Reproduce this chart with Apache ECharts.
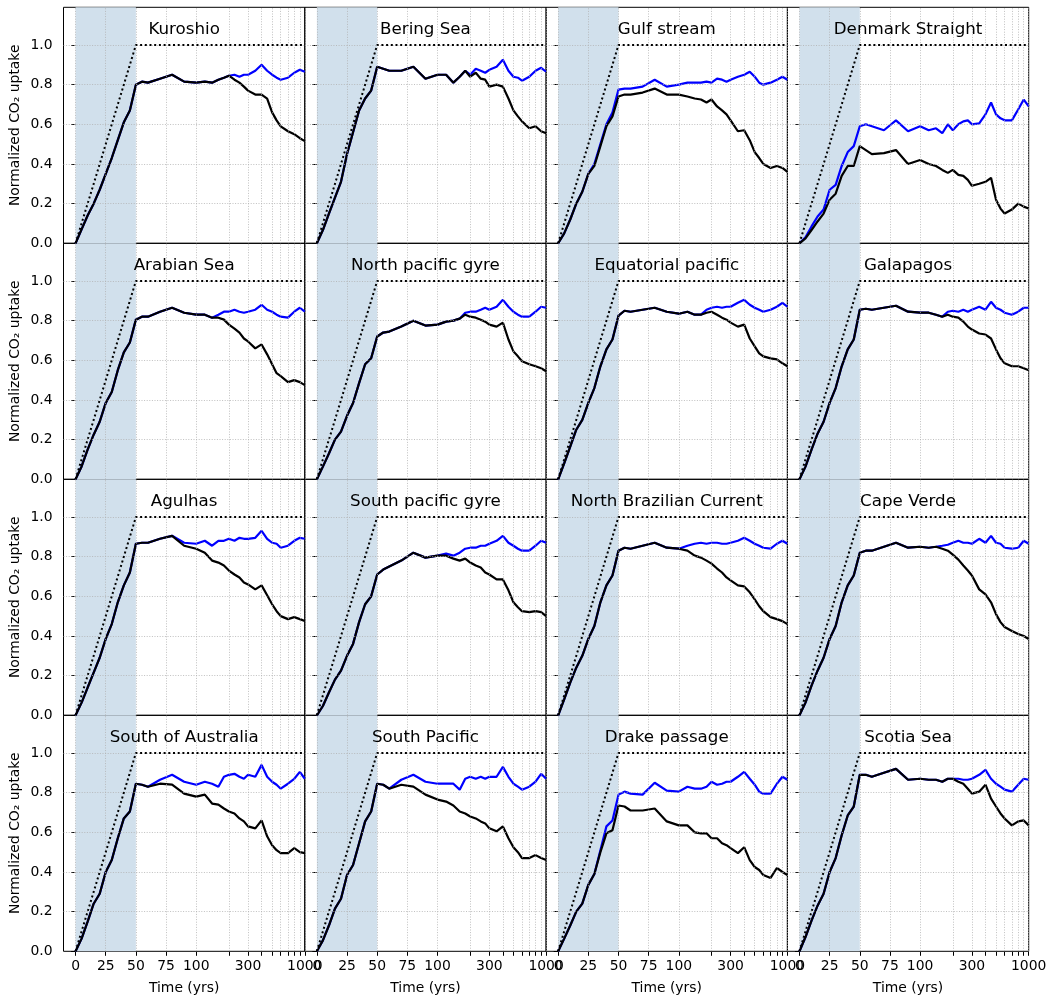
<!DOCTYPE html>
<html><head><meta charset="utf-8">
<script src="https://cdn.jsdelivr.net/npm/echarts@6.0.0/dist/echarts.min.js"></script>
<style>html,body{margin:0;padding:0;background:#fff}#c{width:1052px;height:998px}</style>
</head><body><div id="c"></div><script>
// ---------- data ----------
const T = [0,5,10,15,20,25,30,35,40,45,50,55,60,70,80,90,100,120,140,160,180,200,225,250,275,300,350,400,450,500,550,600,700,800,900,1000];

const titles = ['Kuroshio','Bering Sea','Gulf stream','Denmark Straight','Arabian Sea','North pacific gyre','Equatorial pacific','Galapagos','Agulhas','South pacific gyre','North Brazilian Current','Cape Verde','South of Australia','South Pacific','Drake passage','Scotia Sea'];

const kuroshioBlack = [0,0.07,0.14,0.20,0.27,0.35,0.43,0.52,0.61,0.67,0.80,0.815,0.81,0.83,0.85,0.815,0.81,0.815,0.81,0.825,0.835,0.845,0.825,0.81,0.79,0.77,0.75,0.75,0.73,0.66,0.62,0.59,0.565,0.55,0.53,0.515];
const kuroshioBlue  = [0,0.07,0.14,0.20,0.27,0.35,0.43,0.52,0.61,0.67,0.80,0.815,0.81,0.83,0.85,0.815,0.81,0.815,0.81,0.825,0.835,0.845,0.85,0.84,0.85,0.85,0.87,0.90,0.87,0.85,0.835,0.825,0.835,0.86,0.875,0.865];

const beringBlack = [0,0.067,0.15,0.23,0.31,0.45,0.56,0.67,0.73,0.77,0.89,0.88,0.87,0.87,0.89,0.83,0.85,0.85,0.81,0.84,0.87,0.84,0.86,0.83,0.825,0.79,0.80,0.79,0.73,0.67,0.64,0.615,0.58,0.59,0.565,0.555];
const beringBlue  = [0,0.067,0.15,0.23,0.31,0.45,0.56,0.67,0.73,0.77,0.89,0.88,0.87,0.87,0.89,0.83,0.85,0.85,0.81,0.84,0.87,0.85,0.88,0.87,0.86,0.875,0.89,0.925,0.87,0.84,0.835,0.82,0.84,0.87,0.885,0.865];

const gulfBlack = [0,0.05,0.12,0.20,0.26,0.35,0.39,0.49,0.59,0.64,0.74,0.75,0.75,0.76,0.78,0.75,0.75,0.74,0.73,0.725,0.71,0.725,0.69,0.67,0.65,0.62,0.565,0.57,0.52,0.46,0.43,0.40,0.38,0.39,0.38,0.36];
const gulfBlue  = [0,0.05,0.12,0.20,0.26,0.35,0.40,0.50,0.60,0.66,0.775,0.78,0.78,0.79,0.825,0.79,0.80,0.81,0.81,0.81,0.815,0.81,0.83,0.825,0.815,0.825,0.84,0.85,0.865,0.84,0.81,0.80,0.81,0.825,0.84,0.825];

const denmarkBlack = [0,0.025,0.067,0.11,0.15,0.22,0.25,0.34,0.39,0.39,0.49,0.47,0.45,0.455,0.47,0.40,0.42,0.40,0.39,0.37,0.355,0.37,0.345,0.34,0.32,0.29,0.30,0.31,0.33,0.22,0.175,0.15,0.17,0.20,0.185,0.175];
const denmarkBlue  = [0,0.03,0.085,0.135,0.17,0.27,0.295,0.39,0.46,0.49,0.59,0.60,0.59,0.57,0.62,0.565,0.59,0.57,0.58,0.555,0.60,0.57,0.60,0.615,0.62,0.60,0.605,0.65,0.71,0.65,0.63,0.62,0.62,0.675,0.725,0.69];

const arabianBlack = [0,0.065,0.15,0.225,0.29,0.385,0.44,0.55,0.64,0.69,0.805,0.82,0.82,0.845,0.865,0.84,0.83,0.83,0.815,0.815,0.805,0.78,0.76,0.74,0.71,0.695,0.66,0.68,0.63,0.58,0.535,0.52,0.49,0.50,0.49,0.475];
const arabianBlue  = [0,0.065,0.15,0.225,0.29,0.385,0.44,0.55,0.64,0.69,0.805,0.82,0.82,0.845,0.865,0.84,0.83,0.83,0.815,0.83,0.845,0.845,0.855,0.845,0.84,0.845,0.855,0.88,0.855,0.845,0.83,0.82,0.815,0.845,0.865,0.845];

const npGyreBlack = [0,0.064,0.13,0.20,0.24,0.32,0.385,0.485,0.58,0.61,0.72,0.74,0.745,0.77,0.80,0.775,0.78,0.795,0.80,0.81,0.83,0.82,0.815,0.805,0.795,0.78,0.77,0.79,0.705,0.645,0.62,0.595,0.58,0.57,0.56,0.545];
const npGyreBlue  = [0,0.064,0.13,0.20,0.24,0.32,0.385,0.485,0.58,0.61,0.72,0.74,0.745,0.77,0.80,0.775,0.78,0.795,0.80,0.81,0.84,0.845,0.845,0.855,0.865,0.855,0.87,0.905,0.87,0.845,0.83,0.82,0.82,0.845,0.87,0.865];

const eqPacBlack = [0,0.08,0.165,0.25,0.30,0.385,0.46,0.57,0.655,0.705,0.825,0.85,0.845,0.855,0.865,0.845,0.835,0.845,0.83,0.83,0.84,0.845,0.83,0.815,0.805,0.79,0.77,0.78,0.71,0.67,0.635,0.62,0.61,0.605,0.585,0.57];
const eqPacBlue  = [0,0.08,0.165,0.25,0.30,0.385,0.46,0.57,0.655,0.705,0.825,0.85,0.845,0.855,0.865,0.845,0.835,0.845,0.83,0.83,0.855,0.865,0.87,0.865,0.87,0.87,0.89,0.905,0.88,0.865,0.855,0.845,0.855,0.87,0.89,0.87];

const galapagosBlack = [0,0.064,0.15,0.23,0.29,0.385,0.46,0.57,0.655,0.705,0.855,0.86,0.855,0.865,0.875,0.845,0.84,0.84,0.83,0.82,0.83,0.82,0.815,0.795,0.77,0.755,0.735,0.73,0.71,0.655,0.61,0.585,0.57,0.57,0.56,0.55];
const galapagosBlue  = [0,0.064,0.15,0.23,0.29,0.385,0.46,0.57,0.655,0.705,0.855,0.86,0.855,0.865,0.875,0.845,0.84,0.84,0.83,0.82,0.845,0.85,0.845,0.855,0.845,0.855,0.87,0.855,0.895,0.865,0.855,0.84,0.83,0.845,0.865,0.865];

const agulhasBlack = [0,0.064,0.14,0.215,0.29,0.385,0.46,0.57,0.655,0.72,0.865,0.87,0.87,0.89,0.905,0.855,0.84,0.82,0.78,0.77,0.755,0.73,0.71,0.695,0.67,0.66,0.635,0.655,0.605,0.56,0.525,0.50,0.485,0.495,0.485,0.475];
const agulhasBlue  = [0,0.064,0.14,0.215,0.29,0.385,0.46,0.57,0.655,0.72,0.865,0.87,0.87,0.89,0.905,0.87,0.865,0.88,0.855,0.88,0.88,0.89,0.88,0.895,0.89,0.89,0.895,0.93,0.89,0.87,0.865,0.845,0.855,0.88,0.895,0.89];

const spGyreBlack = [0,0.047,0.115,0.18,0.225,0.30,0.36,0.47,0.56,0.60,0.71,0.735,0.75,0.78,0.82,0.795,0.805,0.805,0.79,0.78,0.79,0.77,0.755,0.745,0.72,0.71,0.685,0.685,0.63,0.57,0.545,0.525,0.52,0.525,0.52,0.50];
const spGyreBlue  = [0,0.047,0.115,0.18,0.225,0.30,0.36,0.47,0.56,0.60,0.71,0.735,0.75,0.78,0.82,0.795,0.805,0.815,0.805,0.82,0.84,0.845,0.845,0.855,0.855,0.865,0.88,0.905,0.87,0.855,0.84,0.83,0.83,0.855,0.88,0.87];

const nbcBlack = [0,0.08,0.165,0.24,0.30,0.385,0.45,0.57,0.655,0.705,0.83,0.845,0.84,0.855,0.87,0.845,0.84,0.83,0.805,0.795,0.78,0.765,0.74,0.72,0.695,0.68,0.655,0.65,0.62,0.585,0.55,0.525,0.495,0.485,0.475,0.46];
const nbcBlue  = [0,0.08,0.165,0.24,0.30,0.385,0.45,0.57,0.655,0.705,0.83,0.845,0.84,0.855,0.87,0.845,0.84,0.855,0.865,0.87,0.865,0.87,0.87,0.865,0.865,0.87,0.88,0.895,0.88,0.865,0.855,0.845,0.84,0.865,0.88,0.865];

const capeVerdeBlack = [0,0.064,0.15,0.225,0.29,0.385,0.45,0.57,0.655,0.705,0.82,0.83,0.83,0.85,0.87,0.845,0.85,0.845,0.85,0.84,0.83,0.81,0.785,0.755,0.73,0.705,0.635,0.61,0.57,0.51,0.47,0.445,0.425,0.41,0.40,0.385];
const capeVerdeBlue  = [0,0.064,0.15,0.225,0.29,0.385,0.45,0.57,0.655,0.705,0.82,0.83,0.83,0.85,0.87,0.845,0.85,0.845,0.85,0.855,0.86,0.87,0.88,0.87,0.87,0.865,0.89,0.87,0.905,0.87,0.865,0.845,0.84,0.845,0.88,0.865];

const soAustraliaBlack = [0,0.064,0.15,0.24,0.29,0.40,0.46,0.57,0.67,0.705,0.845,0.84,0.83,0.845,0.84,0.795,0.78,0.79,0.745,0.74,0.72,0.705,0.695,0.67,0.655,0.63,0.62,0.66,0.58,0.535,0.51,0.495,0.495,0.52,0.50,0.495];
const soAustraliaBlue  = [0,0.064,0.15,0.24,0.29,0.40,0.46,0.57,0.67,0.705,0.845,0.84,0.83,0.865,0.89,0.855,0.84,0.855,0.845,0.83,0.88,0.89,0.895,0.88,0.87,0.89,0.88,0.94,0.88,0.855,0.84,0.82,0.845,0.87,0.905,0.87];

const southPacBlack = [0,0.055,0.13,0.215,0.265,0.385,0.435,0.545,0.655,0.705,0.845,0.84,0.82,0.84,0.83,0.79,0.765,0.755,0.735,0.705,0.695,0.68,0.67,0.655,0.645,0.62,0.605,0.63,0.57,0.525,0.50,0.47,0.47,0.485,0.47,0.46];
const southPacBlue  = [0,0.055,0.13,0.215,0.265,0.385,0.435,0.545,0.655,0.705,0.845,0.84,0.82,0.865,0.89,0.855,0.845,0.845,0.845,0.815,0.87,0.88,0.87,0.88,0.87,0.88,0.88,0.93,0.88,0.845,0.83,0.815,0.83,0.855,0.895,0.87];

const drakeBlack = [0,0.064,0.13,0.20,0.24,0.335,0.39,0.50,0.595,0.61,0.735,0.73,0.71,0.71,0.72,0.655,0.635,0.635,0.60,0.595,0.595,0.57,0.57,0.545,0.535,0.52,0.495,0.525,0.46,0.425,0.41,0.385,0.37,0.42,0.40,0.385];
const drakeBlue  = [0,0.064,0.13,0.20,0.24,0.335,0.39,0.51,0.63,0.66,0.79,0.805,0.795,0.79,0.85,0.81,0.805,0.83,0.82,0.82,0.83,0.855,0.84,0.845,0.855,0.855,0.88,0.905,0.87,0.84,0.805,0.795,0.795,0.845,0.88,0.865];

const scotiaBlack = [0,0.072,0.155,0.23,0.29,0.40,0.47,0.585,0.685,0.73,0.89,0.89,0.88,0.90,0.92,0.865,0.87,0.865,0.865,0.855,0.87,0.87,0.855,0.845,0.82,0.795,0.805,0.84,0.77,0.73,0.695,0.67,0.635,0.655,0.66,0.635];
const scotiaBlue  = [0,0.072,0.155,0.23,0.29,0.40,0.47,0.585,0.685,0.73,0.89,0.89,0.88,0.90,0.92,0.865,0.87,0.865,0.865,0.855,0.87,0.87,0.87,0.865,0.865,0.87,0.89,0.915,0.87,0.845,0.83,0.815,0.805,0.84,0.87,0.865];

// dotted reference (linear ramp to 1 over 50 yrs, then flat)
const refT = [0, 50, 1000];
const refY = [0, 1, 1];
// shaded emission period
const shadeStart = 0, shadeEnd = 50;
// axis ticks / labels
const xLabelTimes = [0, 25, 50, 75, 100, 300, 1000];
const xTickTimes  = [0, 25, 50, 75, 100, 200, 300, 400, 500, 600, 700, 800, 900, 1000];
const xGridTimes  = [0, 25, 50, 75, 100, 200, 300, 400, 500, 600, 700, 800, 900, 1000];
const yTicks = [0, 0.2, 0.4, 0.6, 0.8, 1.0];
const yGrid = [0.2, 0.4, 0.6, 0.8, 1.0];
const xRange = [-10, 1000];
const yRange = [0, 1.19];

const blacks = [kuroshioBlack, beringBlack, gulfBlack, denmarkBlack, arabianBlack, npGyreBlack, eqPacBlack, galapagosBlack, agulhasBlack, spGyreBlack, nbcBlack, capeVerdeBlack, soAustraliaBlack, southPacBlack, drakeBlack, scotiaBlack];
const blues  = [kuroshioBlue, beringBlue, gulfBlue, denmarkBlue, arabianBlue, npGyreBlue, eqPacBlue, galapagosBlue, agulhasBlue, spGyreBlue, nbcBlue, capeVerdeBlue, soAustraliaBlue, southPacBlue, drakeBlue, scotiaBlue];

// ---------- symlog transform (linthresh 100, linscale 1) ----------
const LIN = 100, LS = 1 / (1 - 1 / 10);
function fx(t) { return t <= LIN ? t * LS : LIN * (LS + Math.log10(t / LIN)); }
function fxInv(v) { return v <= LIN * LS ? v / LS : LIN * Math.pow(10, v / LIN - LS); }

// ---------- layout ----------
const GL = 63.5, GT = 7.3, CW = 241.3, CH = 236;
const FONT = "'DejaVu Sans', sans-serif";

const grids = [], xAxes = [], yAxes = [], series = [], graphics = [];
titles.forEach((name, i) => {
  const r = Math.floor(i / 4), c = i % 4;
  const left = GL + c * CW, top = GT + r * CH;
  grids.push({ left: left, top: top, width: CW, height: CH, show: true, borderColor: '#000', borderWidth: 1, backgroundColor: 'transparent' });
  xAxes.push({
    gridIndex: i, type: 'value', min: fx(xRange[0]), max: fx(xRange[1]),
    axisLine: { show: false }, splitLine: { show: false },
    axisTick: { show: r === 3, inside: false, length: 4.5, lineStyle: { color: '#000', width: 1 }, customValues: xTickTimes.map(fx) },
    axisLabel: { show: r === 3, customValues: xLabelTimes.map(fx), color: '#000', fontSize: 13.9, fontFamily: FONT, margin: 8,
      formatter: function (v) { const t = fxInv(v); let b = xLabelTimes[0]; xLabelTimes.forEach(x => { if (Math.abs(x - t) < Math.abs(b - t)) b = x; }); return String(b); } },
    name: r === 3 ? 'Time (yrs)' : '', nameLocation: 'middle', nameGap: 30,
    nameTextStyle: { color: '#000', fontSize: 13.9, fontFamily: FONT }
  });
  yAxes.push({
    gridIndex: i, type: 'value', min: yRange[0], max: yRange[1],
    axisLine: { show: false }, splitLine: { show: false },
    axisTick: { show: true, inside: false, length: 4.5, lineStyle: { color: '#000', width: 1 }, customValues: yTicks },
    axisLabel: { show: c === 0, customValues: yTicks, color: '#000', fontSize: 13.9, fontFamily: FONT, margin: 11,
      formatter: v => v.toFixed(1) },
    name: c === 0 ? 'Normalized CO\u2082 uptake' : '', nameLocation: 'middle', nameGap: 41, nameRotate: 90,
    nameTextStyle: { color: '#000', fontSize: 13.9, fontFamily: FONT }
  });
  const refData = refT.map((t, k) => [fx(t), refY[k]]);
  // shaded emission period
  series.push({ type: 'line', xAxisIndex: i, yAxisIndex: i, data: refData, symbol: 'none', silent: true, z: 1,
    lineStyle: { opacity: 0 },
    markArea: { silent: true, itemStyle: { color: '#d1e0ec' }, data: [[{ xAxis: fx(shadeStart) }, { xAxis: fx(shadeEnd) }]] } });
  // grid lines
  series.push({ type: 'line', xAxisIndex: i, yAxisIndex: i, data: refData, symbol: 'none', silent: true, z: 2,
    lineStyle: { opacity: 0 },
    markLine: { silent: true, symbol: ['none', 'none'], label: { show: false }, animation: false,
      lineStyle: { color: '#b0b0b0', width: 0.8, type: [1, 1.6] },
      data: xGridTimes.map(t => ({ xAxis: fx(t) })).concat(yGrid.map(v => ({ yAxis: v }))) } });
  series.push({ type: 'line', xAxisIndex: i, yAxisIndex: i, name: 'blue', z: 3, symbol: 'none', silent: true,
    data: T.map((t, k) => [fx(t), blues[i][k]]), lineStyle: { color: '#0000ff', width: 2.2 } });
  series.push({ type: 'line', xAxisIndex: i, yAxisIndex: i, name: 'black', z: 4, symbol: 'none', silent: true,
    data: T.map((t, k) => [fx(t), blacks[i][k]]), lineStyle: { color: '#000', width: 2.2 } });
  series.push({ type: 'line', xAxisIndex: i, yAxisIndex: i, name: 'ref', z: 5, symbol: 'none', silent: true,
    data: refData, lineStyle: { color: '#000', width: 2, type: [2, 2.7] } });
  graphics.push({ type: 'text', x: left + CW / 2, y: top + 22.3, z: 100, silent: true,
    style: { text: name, fill: '#000', fontSize: 16.7, fontFamily: FONT, align: 'center', verticalAlign: 'middle', textAlign: 'center', textVerticalAlign: 'middle' } });
});

const chart = echarts.init(document.getElementById('c'), null, { renderer: 'canvas' });
chart.setOption({
  animation: false,
  backgroundColor: '#fff',
  grid: grids, xAxis: xAxes, yAxis: yAxes, series: series, graphic: graphics
});
</script></body></html>
